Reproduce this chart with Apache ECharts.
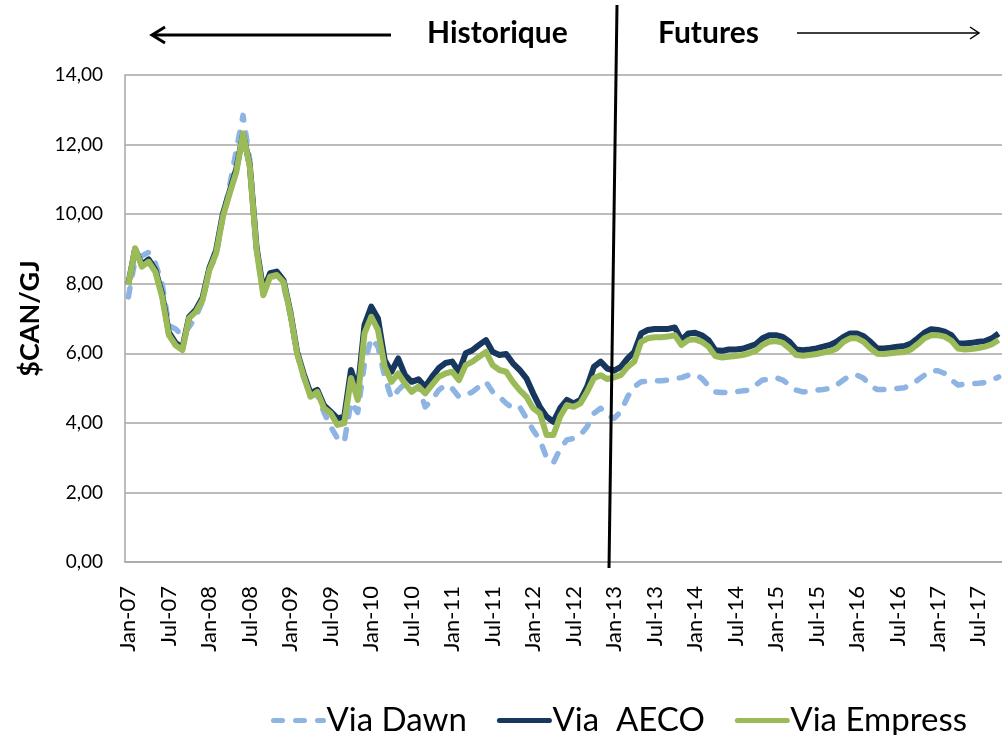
<!DOCTYPE html>
<html>
<head>
<meta charset="utf-8">
<script src="https://cdn.jsdelivr.net/npm/echarts@6/dist/echarts.min.js"></script>
<style>
  html, body { margin: 0; padding: 0; background: #fff; }
  #main { width: 1002px; height: 735px; }
</style>
</head>
<body>
<div id="main"></div>
<script>
// mois / années pour les catégories (Jan-07 .. Oct-17)
const months = ['Jan', 'Feb', 'Mar', 'Apr', 'May', 'Jun', 'Jul', 'Aug', 'Sep', 'Oct', 'Nov', 'Dec'];
const years = ['07', '08', '09', '10', '11', '12', '13', '14', '15', '16', '17'];
const nbMonths = 130;

const yTicks = [0, 2, 4, 6, 8, 10, 12, 14];

// Via Dawn
const dawn = [
  7.62, 8.70, 8.80, 8.90, 8.58, 8.00, 6.80, 6.70, 6.50, 6.76, 7.05, 7.50,
  8.40, 8.80, 9.90, 10.80, 11.84, 12.84, 11.55, 9.00, 7.80, 8.10, 8.30, 7.95,
  7.10, 6.00, 5.30, 4.80, 4.80, 4.30, 3.89, 3.55, 3.45, 4.60, 4.30, 5.71,
  6.43, 6.19, 5.32, 4.70, 4.94, 5.13, 4.94, 5.04, 4.46, 4.66, 4.94, 5.09,
  4.99, 4.75, 4.80, 4.89, 5.04, 5.18, 4.89, 4.75, 4.56, 4.42, 4.46, 4.13,
  3.79, 3.51, 3.00, 2.85, 3.25, 3.51, 3.55, 3.65, 3.89, 4.27, 4.42, 4.22,
  4.13, 4.32, 4.75, 5.04, 5.18, 5.20, 5.21, 5.21, 5.23, 5.28, 5.30, 5.37,
  5.40, 5.28, 5.06, 4.89, 4.87, 4.88, 4.89, 4.92, 4.94, 5.09, 5.23, 5.25,
  5.30, 5.23, 5.09, 4.94, 4.89, 4.91, 4.94, 4.96, 4.99, 5.09, 5.23, 5.37,
  5.37, 5.28, 5.06, 4.96, 4.96, 4.97, 4.99, 5.01, 5.09, 5.23, 5.37, 5.50,
  5.50, 5.42, 5.23, 5.09, 5.11, 5.13, 5.14, 5.16, 5.23, 5.32
];

// Via AECO
const aeco = [
  8.00, 9.00, 8.55, 8.70, 8.40, 7.70, 6.60, 6.30, 6.15, 7.05, 7.25, 7.60,
  8.45, 8.95, 10.00, 10.65, 11.30, 12.30, 11.40, 9.05, 7.80, 8.30, 8.35, 8.10,
  7.20, 6.05, 5.40, 4.85, 4.95, 4.50, 4.32, 4.13, 4.18, 5.52, 4.94, 6.81,
  7.34, 7.00, 5.80, 5.47, 5.85, 5.37, 5.18, 5.25, 5.04, 5.32, 5.57, 5.72,
  5.76, 5.47, 6.00, 6.09, 6.24, 6.38, 6.04, 5.95, 5.98, 5.71, 5.52, 5.28,
  4.85, 4.46, 4.18, 4.03, 4.42, 4.66, 4.56, 4.66, 5.04, 5.61, 5.76, 5.56,
  5.50, 5.61, 5.85, 6.04, 6.57, 6.67, 6.70, 6.70, 6.70, 6.74, 6.38, 6.57,
  6.59, 6.52, 6.38, 6.09, 6.07, 6.11, 6.11, 6.13, 6.19, 6.26, 6.43, 6.52,
  6.52, 6.47, 6.33, 6.11, 6.09, 6.11, 6.14, 6.19, 6.24, 6.33, 6.47, 6.57,
  6.57, 6.49, 6.33, 6.14, 6.14, 6.16, 6.19, 6.21, 6.28, 6.43, 6.59, 6.69,
  6.67, 6.62, 6.52, 6.28, 6.28, 6.30, 6.33, 6.35, 6.43, 6.57
];

// Via Empress
const empress = [
  7.96, 9.02, 8.49, 8.63, 8.34, 7.62, 6.52, 6.23, 6.09, 7.01, 7.19, 7.53,
  8.39, 8.87, 9.92, 10.59, 11.21, 12.32, 11.36, 8.97, 7.67, 8.20, 8.25, 8.05,
  7.15, 6.00, 5.33, 4.75, 4.89, 4.42, 4.27, 3.94, 3.99, 5.29, 4.66, 6.57,
  7.05, 6.67, 5.61, 5.18, 5.42, 5.13, 4.89, 5.04, 4.85, 5.09, 5.32, 5.42,
  5.47, 5.23, 5.66, 5.76, 5.90, 6.04, 5.66, 5.52, 5.47, 5.18, 4.94, 4.75,
  4.42, 4.27, 3.65, 3.65, 4.18, 4.51, 4.46, 4.56, 4.89, 5.28, 5.37, 5.26,
  5.31, 5.37, 5.61, 5.76, 6.33, 6.43, 6.46, 6.46, 6.48, 6.52, 6.24, 6.38,
  6.40, 6.33, 6.19, 5.92, 5.88, 5.90, 5.92, 5.95, 6.00, 6.07, 6.24, 6.33,
  6.35, 6.30, 6.14, 5.95, 5.93, 5.95, 5.98, 6.02, 6.06, 6.14, 6.33, 6.43,
  6.43, 6.33, 6.14, 5.99, 5.98, 6.00, 6.02, 6.04, 6.11, 6.26, 6.43, 6.52,
  6.52, 6.48, 6.36, 6.14, 6.11, 6.12, 6.15, 6.19, 6.26, 6.38
];

const categories = [];
for (let i = 0; i < nbMonths; i++) {
  categories.push(months[i % 12] + '-' + years[Math.floor(i / 12)]);
}

const FONT = 'Lato, "Noto Sans", sans-serif';
const GRID_COLOR = '#a6a6a6';

const chart = echarts.init(document.getElementById('main'), null, { renderer: 'canvas' });

const option = {
  animation: false,
  backgroundColor: '#ffffff',
  textStyle: { fontFamily: FONT, color: '#000' },
  grid: { left: 125, top: 75, right: 0, bottom: 173, containLabel: false },
  legend: {
    left: 266,
    top: 699,
    itemWidth: 50,
    itemHeight: 14,
    itemGap: 30,
    itemStyle: { opacity: 0 },
    lineStyle: { width: 5, cap: 'round' },
    textStyle: { fontSize: 33, fontFamily: FONT, color: '#000', padding: [0, 0, 0, -2] },
    data: ['Via Dawn', 'Via  AECO', 'Via Empress']
  },
  xAxis: {
    type: 'category',
    data: categories,
    boundaryGap: true,
    axisLine: { lineStyle: { color: GRID_COLOR, width: 1.5 } },
    axisTick: { show: false },
    axisLabel: {
      interval: 5,
      rotate: 90,
      margin: 24,
      fontSize: 22,
      fontFamily: FONT,
      color: '#000'
    },
    splitLine: { show: false }
  },
  yAxis: {
    type: 'value',
    min: yTicks[0],
    max: yTicks[yTicks.length - 1],
    interval: 2,
    name: '$CAN/GJ',
    nameLocation: 'middle',
    nameGap: 78,
    nameTextStyle: { fontSize: 27, fontWeight: 'bold', fontFamily: FONT, color: '#000' },
    axisLine: { show: true, lineStyle: { color: GRID_COLOR, width: 1.5 } },
    axisTick: { show: false },
    axisLabel: {
      margin: 22,
      fontSize: 19,
      fontFamily: FONT,
      color: '#000',
      formatter: v => v.toFixed(2).replace('.', ',')
    },
    splitLine: { lineStyle: { color: GRID_COLOR, width: 1.5 } }
  },
  series: [
    {
      name: 'Via Dawn',
      type: 'line',
      data: dawn,
      symbol: 'none',
      smooth: false,
      lineStyle: { color: '#8db4e2', width: 5.5, type: [9, 13], cap: 'round', join: 'round' },
      itemStyle: { color: '#8db4e2' },
      z: 2
    },
    {
      name: 'Via  AECO',
      type: 'line',
      data: aeco,
      symbol: 'none',
      lineStyle: { color: '#17375e', width: 6, join: 'round' },
      itemStyle: { color: '#17375e' },
      z: 3
    },
    {
      name: 'Via Empress',
      type: 'line',
      data: empress,
      symbol: 'none',
      lineStyle: { color: '#9bbb59', width: 6, join: 'round' },
      itemStyle: { color: '#9bbb59' },
      z: 4
    }
  ],
  graphic: [
    // séparation historique / futures
    { type: 'line', shape: { x1: 617, y1: 5, x2: 609, y2: 568 }, style: { stroke: '#000', lineWidth: 3 }, z: 10 },
    // flèche gauche
    { type: 'line', shape: { x1: 153, y1: 35, x2: 391, y2: 35 }, style: { stroke: '#000', lineWidth: 3 } },
    { type: 'polyline', shape: { points: [[165, 27], [152, 35], [165, 43]] }, style: { stroke: '#000', lineWidth: 3, fill: null } },
    // flèche droite
    { type: 'line', shape: { x1: 797, y1: 33, x2: 978, y2: 33 }, style: { stroke: '#000', lineWidth: 1.5 } },
    { type: 'polyline', shape: { points: [[970, 27], [979, 33], [970, 39]] }, style: { stroke: '#000', lineWidth: 1.5, fill: null } },
    {
      type: 'text', left: 427, top: 18,
      style: { text: 'Historique', font: 'bold 30px ' + FONT, fill: '#000' }
    },
    {
      type: 'text', left: 658, top: 18,
      style: { text: 'Futures', font: 'bold 30px ' + FONT, fill: '#000' }
    }
  ]
};

chart.setOption(option);
</script>
</body>
</html>
